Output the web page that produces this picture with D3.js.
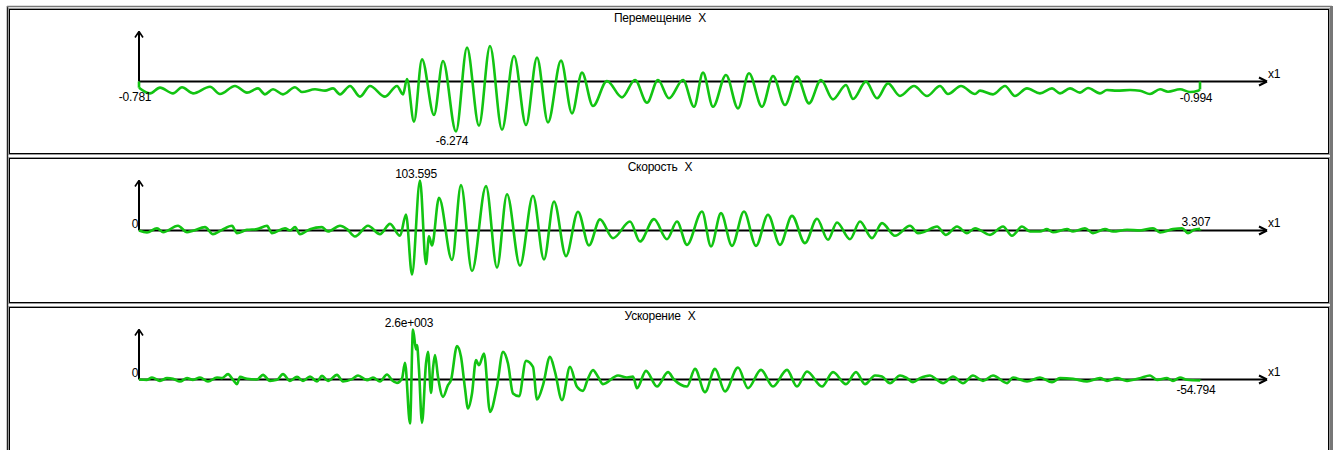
<!DOCTYPE html>
<html>
<head>
<meta charset="utf-8">
<script src="https://cdn.jsdelivr.net/npm/d3@7"></script>
<style>
  body { margin: 0; background: #fff; }
  text { font-family: "Liberation Sans", Arial, sans-serif; font-size: 12px; letter-spacing: -0.25px; fill: #000; }
</style>
</head>
<body>
<div id="chart"></div>
<script>
// sample index (x1) and value for each trace
const titles = ["Перемещение X", "Скорость X", "Ускорение X"];

const dispT = [0,11,21,34,43,54,71,81,96,108,119,126,134,144,156,163,176,186,194,201,211,221,231,246,258,264,
  268,275,283,295,304,317,328,340,351,363,375,387,398,409,422,433,443,454,468,483,496,508,519,530,544,555,564,574,
  587,599,610,623,634,646,658,670,682,694,707,714,727,738,749,761,775,788,801,809,822,836,841,854,866,876,888,901,
  913,921,931,941,949,961,968,978,991,1001,1011,1021,1029,1041,1051,1059,1061];
const dispV = [-0.781,-1.49,-0.77,-1.49,-0.73,-1.49,-0.65,-1.57,-0.56,-1.40,-0.86,-1.61,-0.98,-1.61,-0.73,-1.32,-0.98,
  -1.15,-0.86,-1.61,-0.56,-1.90,-0.56,-1.90,-0.56,-1.61,
  0.31,-5.04,2.78,-4.20,2.57,-6.274,4.25,-5.54,4.46,-6.05,3.20,-5.46,2.99,-5.13,2.62,-4.00,1.11,-3.08,0.06,-1.99,0.19,
  -2.66,0.19,-2.11,0.19,-3.16,1.11,-3.16,0.82,-3.37,1.03,-3.16,0.69,-2.95,0.61,-2.74,0.19,-2.24,-0.44,-2.20,-0.02,
  -2.11,-0.23,-1.82,-0.56,-1.82,-0.56,-1.57,-0.56,-1.57,-1.15,-1.61,-0.56,-1.82,-0.86,-1.49,-0.86,-1.49,-0.86,-1.40,
  -0.82,-1.49,-1.07,-1.15,-1.07,-1.15,-1.57,-0.98,-1.28,-0.98,-1.32,-1.15,-0.994];

const velT = [0,8,18,24,39,48,54,66,74,83,93,98,108,118,128,133,146,151,156,161,171,183,189,201,208,216,229,241,251,
  261,267,273,281,287,290,293,300,313,322,333,347,358,368,381,394,405,415,427,439,450,461,474,491,501,515,528,538,
  548,563,572,582,593,605,617,629,641,653,666,678,689,698,711,721,733,743,756,771,779,786,798,807,818,828,836,851,
  864,873,883,891,901,908,914,928,934,946,954,966,974,988,1001,1014,1021,1034,1043,1049,1055,1061];
const velV = [0,-4.1,4.8,-3.5,9.7,-3.5,-0.7,6.9,-7.6,1.4,9.7,-5.5,1.4,2.8,9.7,-5.5,4.8,0,6.9,-7.6,2.8,6.9,-2.1,9.7,
  2.8,-12.4,9.7,-7.6,13.8,-11,33,-91,103.595,-69.5,-12,-31,68,-61,94,-84,92,-77,75,-73,72,-60,60,-53,39,-31,23,-16,
  18.6,-22.8,23.5,-18,18.6,-29.7,39.4,-33.1,35.9,-31.8,39.4,-31.8,32.5,-29.7,30.4,-26.2,24.2,-19.3,16.6,-18,18.6,
  -15.9,15.2,-11,9.7,-5.5,-2.1,8.3,-9,8.3,-5.5,4.8,-9,8.3,-11,8.3,-2.1,-2.1,2.8,-3.5,2.8,-2.1,4.8,-5.5,2.8,-2.1,1.4,
  0,4.8,-4.1,2.8,4.8,-5.5,1.4,3.307];

const accT = [0,8,13,21,28,34,41,48,54,61,69,78,83,89,94,98,101,108,118,124,131,138,144,151,158,164,171,178,183,189,
  198,204,213,219,228,234,241,248,253,258,263,266,271,274,277,278,280,283,287,289,292,294,296,299,304,309,312,318,
  322,326,329,333,337,340,345,351,358,364,369,374,380,387,394,398,404,411,416,423,431,438,444,449,454,459,464,479,
  488,494,498,507,518,529,535,548,556,566,576,586,599,609,622,634,648,658,668,683,694,707,717,726,736,743,751,761,
  768,774,781,791,798,804,814,824,834,844,854,868,874,888,901,913,921,934,948,961,968,978,988,1001,1011,1018,1028,
  1034,1041,1048,1061];
const accV = [0,-17,104,-69,69,35,-104,69,-17,104,-104,104,69,277,-17,-243,139,35,0,243,-69,-17,277,-69,139,-69,156,
  -104,191,-69,243,-104,17,208,-35,104,-104,260,-35,-173,52,867,-2288,2600,1560,1785,485,-2253,832,1438,-693,572,
  1265,139,-901,-295,-35,1733,1178,-468,-1508,-728,1005,745,1352,-1681,-347,1438,832,-728,-867,971,659,-1040,-295,
  1178,399,-1074,659,-381,-589,52,485,139,-243,208,104,156,-451,451,-364,381,0,-364,555,-659,555,-624,624,-451,503,
  -364,503,-364,416,-364,381,-243,381,-243,208,156,-191,208,69,-139,69,208,-17,-191,156,-191,208,-69,208,-191,104,
  -104,104,-139,69,35,-104,69,-69,69,-69,69,208,-17,69,-69,104,-17,-54.794];

const series = [
  {title: titles[0], t: dispT, v: dispV},
  {title: titles[1], t: velT, v: velV},
  {title: titles[2], t: accT, v: accV}
];

const W = 1341, H = 450;
const panelH = 144, panelStep = 149, firstTop = 9.5;
const amp = 50;

function fmt(v) {
  if (Math.abs(v) >= 1000) {
    let s = v.toExponential(1);
    return s.replace(/e([+-])(\d+)/, (m, sg, d) => "e" + sg + d.padStart(3, "0"));
  }
  return String(+v.toFixed(3));
}

const svg = d3.select("#chart").append("svg")
  .attr("width", W)
  .attr("height", H);

// outer window frame
svg.append("line").attr("x1", 7.5).attr("x2", 7.5).attr("y1", 6).attr("y2", H)
  .attr("stroke", "#222").attr("stroke-width", 1.5);
svg.append("line").attr("x1", 7).attr("x2", 1332).attr("y1", 6.5).attr("y2", 6.5)
  .attr("stroke", "#777").attr("stroke-width", 1.5);
svg.append("line").attr("x1", 1331.5).attr("x2", 1331.5).attr("y1", 6).attr("y2", H)
  .attr("stroke", "#777").attr("stroke-width", 3);

series.forEach((s, i) => {
  const top = firstTop + i * panelStep;
  const axisY = top + panelH / 2;
  const g = svg.append("g");

  g.append("rect")
    .attr("x", 8.5).attr("y", top - 1)
    .attr("width", 1321).attr("height", panelH + 2)
    .attr("fill", "none").attr("stroke", "#9a9a9a");
  g.append("rect")
    .attr("x", 9.5).attr("y", top)
    .attr("width", 1319).attr("height", panelH)
    .attr("fill", "#fff").attr("stroke", "#000");

  const x = d3.scaleLinear().domain(d3.extent(s.t)).range([139, 1200]);
  const maxAbs = d3.max(s.v, d => Math.abs(d));
  const y = d3.scaleLinear().domain([-maxAbs, maxAbs]).range([axisY + amp, axisY - amp]);

  g.append("text")
    .attr("x", 660).attr("y", top + 12)
    .attr("text-anchor", "middle")
    .style("word-spacing", "4px")
    .text(s.title);

  // axes with arrows
  const xEnd = 1267;
  g.append("line").attr("x1", x(0)).attr("x2", xEnd - 2).attr("y1", y(0)).attr("y2", y(0))
    .attr("stroke", "#000").attr("stroke-width", 2);
  g.append("path")
    .attr("d", `M${xEnd},${y(0)} L${xEnd - 8},${y(0) - 4} M${xEnd},${y(0)} L${xEnd - 8},${y(0) + 4}`)
    .attr("stroke", "#000").attr("stroke-width", 2).attr("fill", "none");
  g.append("text").attr("x", xEnd + 1).attr("y", y(0) - 3.5).text("x1");

  g.append("line").attr("x1", x(0)).attr("x2", x(0)).attr("y1", y(0)).attr("y2", y(maxAbs) + 1)
    .attr("stroke", "#000").attr("stroke-width", 2);
  g.append("path")
    .attr("d", `M${x(0)},${y(maxAbs)} L${x(0) - 4},${y(maxAbs) + 6} M${x(0)},${y(maxAbs)} L${x(0) + 4},${y(maxAbs) + 6}`)
    .attr("stroke", "#000").attr("stroke-width", 1.6).attr("fill", "none");

  // trace
  const pts = s.t.map((t, k) => [t, s.v[k]]);
  const line = d3.line()
    .x(d => x(d[0]))
    .y(d => y(d[1]))
    .curve(d3.curveMonotoneX);
  const green = "#12c412";
  g.append("path")
    .datum(pts)
    .attr("d", line)
    .attr("fill", "none")
    .attr("stroke", green)
    .attr("stroke-width", 2.6)
    .attr("stroke-linejoin", "round");
  const first = pts[0], last = pts[pts.length - 1];
  [first, last].forEach(p => {
    g.append("line").attr("x1", x(p[0])).attr("x2", x(p[0])).attr("y1", y(0)).attr("y2", y(p[1]))
      .attr("stroke", green).attr("stroke-width", 2.6);
  });

  // value labels: first, extreme, last
  const ext = pts.reduce((a, b) => Math.abs(b[1]) > Math.abs(a[1]) ? b : a);
  [first, ext, last].forEach(p => {
    g.append("text")
      .attr("x", x(p[0]) - 4)
      .attr("y", p[1] >= 0 ? y(p[1]) - 3 : y(p[1]) + 13)
      .attr("text-anchor", "middle")
      .text(fmt(p[1]));
  });
});
</script>
</body>
</html>
